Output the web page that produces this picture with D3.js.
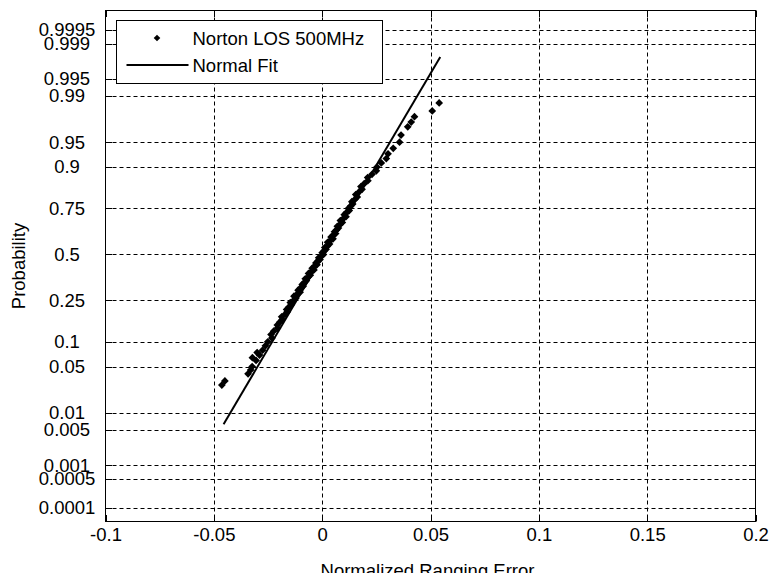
<!DOCTYPE html>
<html>
<head>
<meta charset="utf-8">
<script src="https://cdn.jsdelivr.net/npm/d3@7"></script>
<style>
  body { margin: 0; background: #fff; }
  text { font-family: "Liberation Sans", Arial, sans-serif; fill: #000; }
</style>
</head>
<body>
<div id="chart"></div>
<script>
// normal probability plot, ranging error
var xTicks = [-0.1, -0.05, 0, 0.05, 0.1, 0.15, 0.2]
var xTickLabels = ["-0.1", "-0.05", "0", "0.05", "0.1", "0.15", "0.2"]
var yTicks = [0.0001, 0.0005, 0.001, 0.005, 0.01, 0.05, 0.1, 0.25, 0.5, 0.75, 0.9, 0.95, 0.99, 0.995, 0.999, 0.9995]
var yTickLabels = ["0.0001", "0.0005", "0.001", "0.005", "0.01", "0.05", "0.1", "0.25", "0.5", "0.75", "0.9", "0.95", "0.99", "0.995", "0.999", "0.9995"]
var xLimits = [-0.1, 0.2]
var yLimits = [0.0000448, 0.999826]

var errValues = [-0.0463, -0.0449, -0.0342, -0.0330, -0.0323, -0.0305, -0.0322, -0.0289, -0.0300, -0.0275, -0.0262, -0.0251, -0.0232,
  -0.0236, -0.0224, -0.0206, -0.0207, -0.0196, -0.0184, -0.0187, -0.0171, -0.0161, -0.0164,
  -0.0153, -0.0143, -0.0147, -0.0132, -0.0122, -0.0130, -0.0116, -0.0102, -0.0111, -0.0101,
  -0.0088, -0.0092, -0.0082, -0.0073, -0.0078, -0.0064, -0.0055, -0.0063, -0.0051, -0.0038,
  -0.0046, -0.0036, -0.0024, -0.0029, -0.0020, -0.0010, -0.0016, -0.0003, 0.0006, 0.0000,
  0.0009, 0.0018, 0.0012, 0.0025, 0.0034, 0.0025, 0.0037, 0.0050, 0.0041, 0.0050,
  0.0062, 0.0057, 0.0066, 0.0075, 0.0070, 0.0083, 0.0093, 0.0084, 0.0097, 0.0110,
  0.0102, 0.0112, 0.0125, 0.0121, 0.0131, 0.0141, 0.0137, 0.0151, 0.0162, 0.0155,
  0.0170, 0.0184, 0.0179, 0.0194, 0.0211, 0.0210, 0.0230, 0.0250, 0.0253, 0.0273,
  0.0296, 0.0304, 0.0328, 0.0357, 0.0364, 0.0395, 0.0411, 0.0426, 0.0508, 0.0540]
var probValues = [0.0277, 0.0317, 0.04, 0.045, 0.05, 0.06, 0.065, 0.07, 0.075, 0.08, 0.09, 0.10, 0.11,
  0.12, 0.13, 0.14, 0.15, 0.16, 0.17, 0.18, 0.19, 0.20, 0.21,
  0.22, 0.23, 0.24, 0.25, 0.26, 0.27, 0.28, 0.29, 0.30, 0.31,
  0.32, 0.33, 0.34, 0.35, 0.36, 0.37, 0.38, 0.39, 0.40, 0.41,
  0.42, 0.43, 0.44, 0.45, 0.46, 0.47, 0.48, 0.49, 0.50, 0.51,
  0.52, 0.53, 0.54, 0.55, 0.56, 0.57, 0.58, 0.59, 0.60, 0.61,
  0.62, 0.63, 0.64, 0.65, 0.66, 0.67, 0.68, 0.69, 0.70, 0.71,
  0.72, 0.73, 0.74, 0.75, 0.76, 0.77, 0.78, 0.79, 0.80, 0.81,
  0.82, 0.83, 0.84, 0.85, 0.86, 0.87, 0.88, 0.89, 0.90, 0.91,
  0.92, 0.93, 0.94, 0.95, 0.96, 0.9693, 0.9738, 0.9783, 0.9823, 0.9868]

// normal fit line end points
var fitErr = [-0.0455, 0.0545]
var fitProb = [0.0064, 0.9981]

var legendLabels = ["Norton LOS 500MHz", "Normal Fit"]

var width = 770
var height = 573
var box = {left: 105.5, right: 755.5, top: 10.5, bottom: 521.5}
var tickLen = 6.5
var fontSize = 18.5

// inverse normal cdf (Acklam)
function norminv(p) {
  var a = [-3.969683028665376e+01, 2.209460984245205e+02, -2.759285104469687e+02, 1.383577518672690e+02, -3.066479806614716e+01, 2.506628277459239e+00];
  var b = [-5.447609879822406e+01, 1.615858368580409e+02, -1.556989798598866e+02, 6.680131188771972e+01, -1.328068155288572e+01];
  var c = [-7.784894002430293e-03, -3.223964580411365e-01, -2.400758277161838e+00, -2.549732539343734e+00, 4.374664141464968e+00, 2.938163982698783e+00];
  var d = [7.784695709041462e-03, 3.224671290700398e-01, 2.445134137142996e+00, 3.754408661907416e+00];
  var plow = 0.02425, q, r;
  if (p < plow) {
    q = Math.sqrt(-2 * Math.log(p));
    return (((((c[0]*q+c[1])*q+c[2])*q+c[3])*q+c[4])*q+c[5]) / ((((d[0]*q+d[1])*q+d[2])*q+d[3])*q+1);
  }
  if (p > 1 - plow) {
    q = Math.sqrt(-2 * Math.log(1 - p));
    return -(((((c[0]*q+c[1])*q+c[2])*q+c[3])*q+c[4])*q+c[5]) / ((((d[0]*q+d[1])*q+d[2])*q+d[3])*q+1);
  }
  q = p - 0.5; r = q * q;
  return (((((a[0]*r+a[1])*r+a[2])*r+a[3])*r+a[4])*r+a[5])*q / (((((b[0]*r+b[1])*r+b[2])*r+b[3])*r+b[4])*r+1);
}

var xScale = d3.scaleLinear().domain(xLimits).range([box.left, box.right])
var zScale = d3.scaleLinear().domain([norminv(yLimits[0]), norminv(yLimits[1])]).range([box.bottom, box.top])
var yScale = function(p) { return zScale(norminv(p)); }

var svg = d3.select("#chart")
  .append("svg")
    .attr("width", width)
    .attr("height", height)

var g = svg.append("g")

// grid
g.append("g").selectAll("line")
  .data(xTicks.slice(1, -1))
  .enter().append("line")
    .attr("x1", function(d) { return Math.round(xScale(d)) + 0.5; })
    .attr("x2", function(d) { return Math.round(xScale(d)) + 0.5; })
    .attr("y1", box.top)
    .attr("y2", box.bottom)
    .attr("stroke", "#000")
    .attr("stroke-dasharray", "4,3")

g.append("g").selectAll("line")
  .data(yTicks)
  .enter().append("line")
    .attr("x1", box.left)
    .attr("x2", box.right)
    .attr("y1", function(d) { return Math.round(yScale(d)) + 0.5; })
    .attr("y2", function(d) { return Math.round(yScale(d)) + 0.5; })
    .attr("stroke", "#000")
    .attr("stroke-dasharray", "4,3")

// fit line
var fitData = fitErr.map(function(v, i) { return [v, fitProb[i]]; })
g.append("path")
  .datum(fitData)
  .attr("fill", "none")
  .attr("stroke", "#000")
  .attr("stroke-width", 2)
  .attr("d", d3.line()
    .x(function(d) { return xScale(d[0]); })
    .y(function(d) { return yScale(d[1]); }))

// sample points
var diamond = d3.symbol().type(d3.symbolSquare).size(30)
g.append("g").selectAll("path")
  .data(errValues)
  .enter().append("path")
    .attr("d", diamond)
    .attr("fill", "#000")
    .attr("transform", function(d, i) {
      return "translate(" + xScale(d) + "," + yScale(probValues[i]) + ")rotate(45)";
    })

// axes box and inner ticks
g.append("rect")
  .attr("x", box.left)
  .attr("y", box.top)
  .attr("width", box.right - box.left)
  .attr("height", box.bottom - box.top)
  .attr("fill", "none")
  .attr("stroke", "#000")

var ticks = g.append("g").attr("stroke", "#000")
xTicks.forEach(function(t) {
  var px = Math.round(xScale(t)) + 0.5
  ticks.append("line").attr("x1", px).attr("x2", px).attr("y1", box.bottom).attr("y2", box.bottom - tickLen)
  ticks.append("line").attr("x1", px).attr("x2", px).attr("y1", box.top).attr("y2", box.top + tickLen)
})
yTicks.forEach(function(t) {
  var py = Math.round(yScale(t)) + 0.5
  ticks.append("line").attr("y1", py).attr("y2", py).attr("x1", box.left).attr("x2", box.left + tickLen)
  ticks.append("line").attr("y1", py).attr("y2", py).attr("x1", box.right).attr("x2", box.right - tickLen)
})

// tick labels
var xAxis = g.append("g")
  .attr("transform", "translate(0," + box.bottom + ")")
  .call(d3.axisBottom(xScale).tickValues(xTicks).tickSize(0).tickPadding(6.5)
    .tickFormat(function(d, i) { return xTickLabels[i]; }))
xAxis.select(".domain").remove()
xAxis.selectAll("text").style("font-size", fontSize + "px").attr("fill", "#000")
  .style("font-family", '"Liberation Sans", Arial, sans-serif')

var yAxis = g.append("g")
  .attr("transform", "translate(" + box.left + ",0)")
  .call(d3.axisLeft(zScale).tickValues(yTicks.map(norminv)).tickSize(0).tickPadding(38.5)
    .tickFormat(function(d, i) { return yTickLabels[i]; }))
yAxis.select(".domain").remove()
yAxis.selectAll("text").style("font-size", fontSize + "px").attr("fill", "#000")
  .attr("text-anchor", "middle")
  .style("font-family", '"Liberation Sans", Arial, sans-serif')

// axis labels
g.append("text")
  .attr("x", (box.left + box.right) / 2 - 3)
  .attr("y", 577)
  .attr("text-anchor", "middle")
  .style("font-size", fontSize + "px")
  .text("Normalized Ranging Error")

g.append("text")
  .attr("transform", "translate(25," + ((box.top + box.bottom) / 2) + ")rotate(-90)")
  .attr("text-anchor", "middle")
  .style("font-size", fontSize + "px")
  .text("Probability")

// legend
var legend = g.append("g").attr("transform", "translate(116.5,20.5)")
legend.append("rect")
  .attr("width", 266)
  .attr("height", 63)
  .attr("fill", "#fff")
  .attr("stroke", "#000")

legend.append("path")
  .attr("d", d3.symbol().type(d3.symbolSquare).size(22))
  .attr("fill", "#000")
  .attr("transform", "translate(40.5,17.5)rotate(45)")

legend.append("line")
  .attr("x1", 10).attr("x2", 72)
  .attr("y1", 44.5).attr("y2", 44.5)
  .attr("stroke", "#000")
  .attr("stroke-width", 2)

legend.selectAll(".label")
  .data(legendLabels)
  .enter().append("text")
    .attr("class", "label")
    .attr("x", 76)
    .attr("y", function(d, i) { return 18 + i * 27; })
    .attr("dy", "0.35em")
    .style("font-size", fontSize + "px")
    .text(function(d) { return d; })
</script>
</body>
</html>
